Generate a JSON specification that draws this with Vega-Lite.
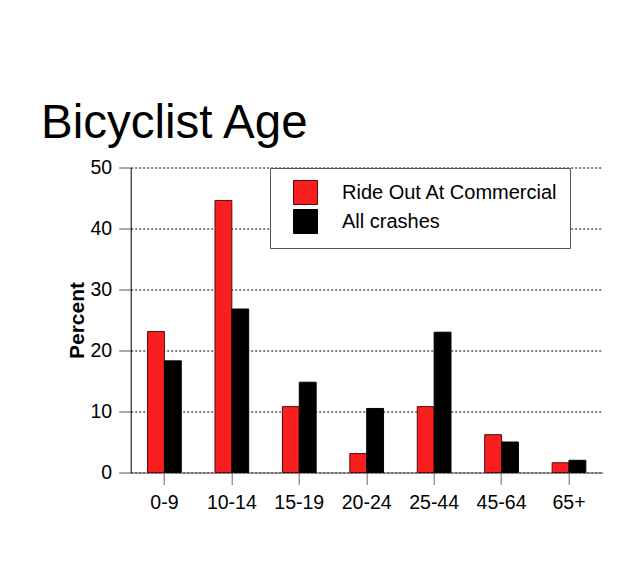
{
  "$schema": "https://vega.github.io/schema/vega-lite/v6.json",
  "autosize": "none",
  "padding": {"left": 130.7, "top": 167.5, "right": 27.3, "bottom": 108.5},
  "width": 472,
  "height": 305,
  "background": "white",
  "title": {
    "text": "Bicyclist Age",
    "anchor": "start",
    "frame": "group",
    "font": "Liberation Sans",
    "fontSize": 47.5,
    "fontWeight": "normal",
    "color": "black",
    "baseline": "alphabetic",
    "dx": -89.7,
    "dy": 56,
    "offset": 28
  },
  "data": {
    "values": [
      {"age": "0-9", "series": "Ride Out At Commercial", "percent": 23.1},
      {"age": "0-9", "series": "All crashes", "percent": 18.3},
      {"age": "10-14", "series": "Ride Out At Commercial", "percent": 44.6},
      {"age": "10-14", "series": "All crashes", "percent": 26.8},
      {"age": "15-19", "series": "Ride Out At Commercial", "percent": 10.8},
      {"age": "15-19", "series": "All crashes", "percent": 14.8},
      {"age": "20-24", "series": "Ride Out At Commercial", "percent": 3.1},
      {"age": "20-24", "series": "All crashes", "percent": 10.5},
      {"age": "25-44", "series": "Ride Out At Commercial", "percent": 10.8},
      {"age": "25-44", "series": "All crashes", "percent": 23.0},
      {"age": "45-64", "series": "Ride Out At Commercial", "percent": 6.2},
      {"age": "45-64", "series": "All crashes", "percent": 5.0},
      {"age": "65+", "series": "Ride Out At Commercial", "percent": 1.6},
      {"age": "65+", "series": "All crashes", "percent": 2.0}
    ]
  },
  "mark": {"type": "bar", "strokeWidth": 1},
  "encoding": {
    "x": {
      "field": "age",
      "type": "nominal",
      "sort": ["0-9", "10-14", "15-19", "20-24", "25-44", "45-64", "65+"],
      "scale": {"paddingInner": 0.5, "paddingOuter": 0.25},
      "axis": {
        "title": null,
        "labelAngle": 0,
        "labelFont": "Liberation Sans",
        "labelFontSize": 19.5,
        "labelColor": "black",
        "labelPadding": 9,
        "tickSize": 12,
        "tickColor": "#666666",
        "domainColor": "#555555",
        "grid": false
      }
    },
    "xOffset": {
      "field": "series",
      "type": "nominal",
      "sort": ["Ride Out At Commercial", "All crashes"],
      "scale": {"paddingInner": 0, "paddingOuter": 0}
    },
    "y": {
      "field": "percent",
      "type": "quantitative",
      "scale": {"domain": [0, 50], "nice": false},
      "axis": {
        "title": "Percent",
        "titleFont": "Liberation Sans",
        "titleFontSize": 21,
        "titleFontWeight": "bold",
        "titleColor": "black",
        "titlePadding": 3,
        "values": [0, 10, 20, 30, 40, 50],
        "labelFont": "Liberation Sans",
        "labelFontSize": 19.5,
        "labelColor": "black",
        "labelPadding": 7,
        "tickSize": 12,
        "tickColor": "#555555",
        "domainColor": "black",
        "grid": true,
        "gridColor": "black",
        "gridDash": [2, 2],
        "gridWidth": 1
      }
    },
    "fill": {
      "field": "series",
      "type": "nominal",
      "scale": {"domain": ["Ride Out At Commercial", "All crashes"], "range": ["#f91f1f", "#000000"]},
      "legend": {
        "title": null,
        "orient": "none",
        "legendX": 139.3,
        "legendY": 0.5,
        "fillColor": "white",
        "strokeColor": "#555555",
        "padding": 12,
        "rowPadding": 0,
        "symbolType": "square",
        "symbolSize": 576,
        "symbolOffset": 11,
        "symbolStrokeWidth": 1,
        "labelOffset": 24,
        "labelFont": "Liberation Sans",
        "labelFontSize": 20,
        "labelColor": "black",
        "labelLimit": 400
      }
    },
    "stroke": {
      "field": "series",
      "type": "nominal",
      "scale": {"domain": ["Ride Out At Commercial", "All crashes"], "range": ["#5a0a0a", "#000000"]},
      "legend": null
    }
  },
  "config": {
    "view": {"stroke": null}
  }
}
